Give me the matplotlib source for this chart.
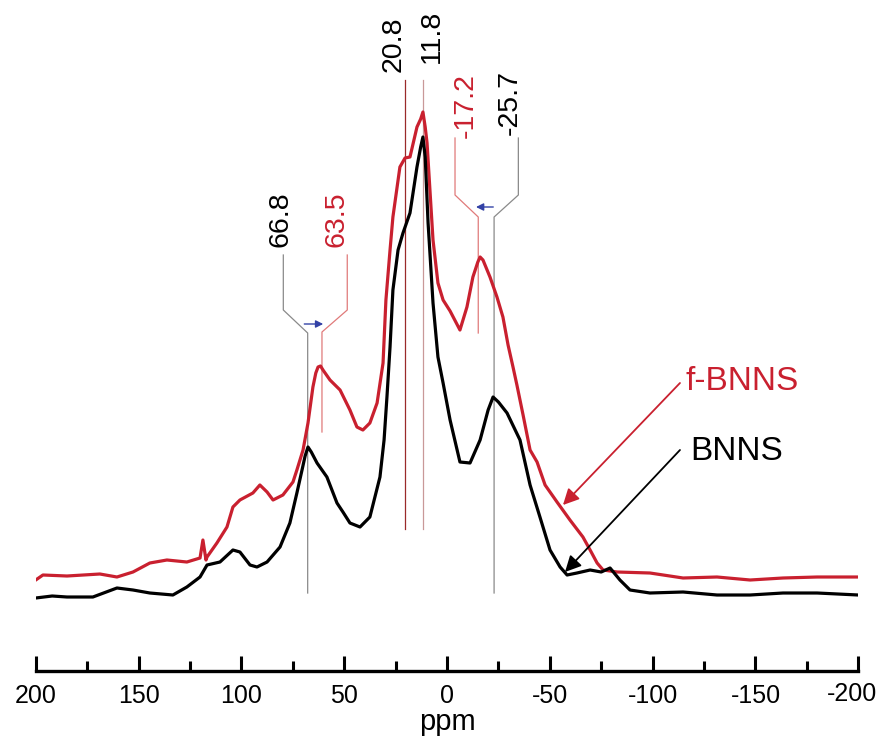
"""
Solid-state 11B NMR of BNNS vs f-BNNS — redraw of the stacked spectra figure.
"""
import matplotlib
matplotlib.use("Agg")
import matplotlib.pyplot as plt
from matplotlib.transforms import ScaledTranslation

# ── palette ────────────────────────────────────────────────────────────────
RED   = "#C9202F"
PINK  = "#E07A7A"
DKRED = "#9A2A2A"
ROSE  = "#C99898"
GREY  = "#8A8A8A"
BLUE  = "#3342A6"
INK   = "#000000"

plt.rcParams["font.family"] = ["Liberation Sans", "DejaVu Sans"]
plt.rcParams["axes.unicode_minus"] = False

# ── spectra (ppm, intensity in arbitrary units) ────────────────────────────
bnns_ppm = [200.0, 192.0, 184.8, 172.2, 160.5, 152.7, 144.5, 133.3, 126.5,
            120.1, 116.7, 110.4, 104.1, 100.7, 95.8, 92.4, 87.5, 81.2, 76.4,
            73.0, 70.5, 69.0, 67.6, 66.0, 63.2, 58.4, 53.5, 50.6, 47.2, 42.3,
            37.5, 32.6, 30.6, 29.2, 27.7, 26.3, 23.8, 21.4, 18.0, 14.6, 12.8,
            11.7, 10.6, 9.2, 6.8, 4.4, 1.9, -1.5, -6.3, -11.2, -16.1, -20.0,
            -22.4, -25.0, -29.2, -35.5, -40.4, -45.2, -50.1, -55.0, -58.4,
            -63.2, -69.6, -75.0, -79.3, -84.1, -89.0, -98.7, -114.8, -131.3,
            -147.4, -163.4, -180.0, -200.0]
bnns_int = [-1, 1, 0, 0, 9, 7, 4, 2, 10,
            20, 32, 35, 47, 45, 32, 30, 35, 50, 74,
            104, 127, 141, 150, 145, 134, 120, 94, 85, 74, 70,
            80, 120, 157, 200, 250, 307, 347, 364, 384, 430, 450,
            460, 440, 374, 294, 240, 214, 177, 135, 134, 157, 187,
            200, 195, 184, 157, 112, 80, 47, 30, 22,
            24, 27, 25, 29, 17, 7, 4, 5, 2,
            2, 4, 4, 2]

fbnns_ppm = [200.0, 196.5, 184.8, 168.8, 160.5, 152.7, 144.5, 136.2, 126.5,
             120.1, 118.7, 117.2, 116.7, 111.9, 107.0, 104.1, 100.7, 94.4,
             91.0, 87.5, 84.6, 79.8, 74.9, 73.0, 70.0, 67.6, 65.2, 63.8, 62.7,
             61.5, 60.3, 56.9, 52.0, 47.2, 43.8, 40.9, 37.5, 34.0, 31.1, 29.7,
             27.7, 26.3, 22.9, 20.4, 18.0, 14.6, 12.8, 11.7, 10.6, 9.7, 6.8,
             4.4, 1.9, -1.5, -6.3, -9.7, -12.6, -15.0, -16.1, -17.5, -19.5,
             -20.9, -24.3, -27.2, -29.7, -32.1, -34.0, -37.0, -40.4, -43.8,
             -47.7, -53.5, -59.8, -66.1, -69.6, -73.0, -75.9, -82.7, -98.7,
             -114.8, -131.3, -147.4, -163.4, -180.0, -200.0]
fbnns_int = [17, 22, 21, 23, 20, 25, 34, 37, 35,
             39, 57, 37, 40, 54, 70, 90, 97, 104,
             112, 105, 97, 102, 115, 127, 147, 174, 210, 224, 230,
             231, 227, 217, 207, 187, 170, 167, 174, 194, 234, 297,
             347, 380, 430, 439, 440, 470, 478, 485, 470, 454, 357,
             314, 297, 286, 267, 290, 320, 335, 340, 337, 327,
             320, 300, 280, 252, 230, 212, 182, 147, 135,
             112, 95, 77, 60, 47, 34, 27, 25, 24,
             19, 20, 17, 19, 20, 20]

# ── peak markers: label, colour, label x, label bottom, polyline ───────────
peak_labels = ["66.8", "63.5", "20.8", "11.8", "-17.2", "-25.7"]
peak_colors = [INK, RED, INK, INK, RED, INK]
label_x     = [81.2, 53.5, 25.8, 7.3, -9.2, -30.6]
label_y     = [350, 350, 525, 534, 459, 462]
marker_x = [[79.6, 79.6, 67.75, 67.75],
            [48.5, 48.5, 60.8, 60.8],
            [20.4, 20.4],
            [11.8, 11.8],
            [-3.9, -3.9, -15.2, -15.2],
            [-34.7, -34.7, -22.9, -22.9]]
marker_y = [[342, 287, 264, 4],
            [342, 287, 265, 165],
            [517, 68],
            [517, 68],
            [459, 402, 380, 264],
            [459, 402, 380, 4]]
marker_colors = [GREY, PINK, DKRED, ROSE, PINK, GREY]

# shift arrows (start ppm, end ppm, height)
shift_from = [69.4, -22.5]
shift_to   = [60.2, -14.1]
shift_y    = [273, 390]

fig = plt.figure(figsize=(8.8, 7.43), dpi=100)
ax = fig.add_axes([0.0406, 0.0969, 0.9347, 0.9031])

ax.plot(fbnns_ppm, fbnns_int, color=RED, linewidth=2.3, zorder=3,
        solid_joinstyle="round")
ax.plot(bnns_ppm, bnns_int, color=INK, linewidth=2.3, zorder=4,
        solid_joinstyle="round")

for xs, ys, c in zip(marker_x, marker_y, marker_colors):
    ax.plot(xs, ys, color=c, linewidth=0.9, zorder=2)

for lab, c, x, y in zip(peak_labels, peak_colors, label_x, label_y):
    ax.text(x, y, lab, color=c, rotation=90, ha="center", va="bottom",
            fontsize=20.5)

for x0, x1, y in zip(shift_from, shift_to, shift_y):
    ax.annotate("", xy=(x1, y), xytext=(x0, y),
                arrowprops=dict(arrowstyle="-|>", color=BLUE, lw=1.0,
                                mutation_scale=11, shrinkA=0, shrinkB=0))

# sample labels with pointer arrows
ax.text(-115.8, 207, "f-BNNS", color=RED, fontsize=24, va="baseline")
ax.text(-118.2, 137, "BNNS", color=INK, fontsize=24, va="baseline")
ax.annotate("", xy=(-56.4, 92), xytext=(-113.3, 214),
            arrowprops=dict(arrowstyle="-|>", color=RED, lw=1.3,
                            mutation_scale=24, shrinkA=0, shrinkB=0))
ax.annotate("", xy=(-57.4, 25), xytext=(-113.3, 147),
            arrowprops=dict(arrowstyle="-|>", color=INK, lw=1.3,
                            mutation_scale=24, shrinkA=0, shrinkB=0))

ax.set_xlim(200, -200)
ax.set_ylim(-74, 597)
ax.set_xticks(range(200, -201, -50))
ax.set_xticks(range(175, -200, -50), minor=True)
ax.tick_params(axis="x", which="major", direction="in", length=11, width=2.2,
               labelsize=18, pad=9)
ax.tick_params(axis="x", which="minor", direction="in", length=7, width=2.2)
ax.set_yticks([])
ax.spines[["top", "right", "left"]].set_visible(False)
ax.spines["bottom"].set_linewidth(2.4)
ax.set_xlabel("ppm", fontsize=21, labelpad=0)
ax.patch.set_alpha(0)

# last label sits a little left and up, as in the source figure
last = ax.xaxis.get_major_ticks()[-1].label1
last.set_transform(last.get_transform()
                   + ScaledTranslation(-0.06, 0.02, fig.dpi_scale_trans))

fig.savefig("out.png", dpi=100, facecolor="white")
